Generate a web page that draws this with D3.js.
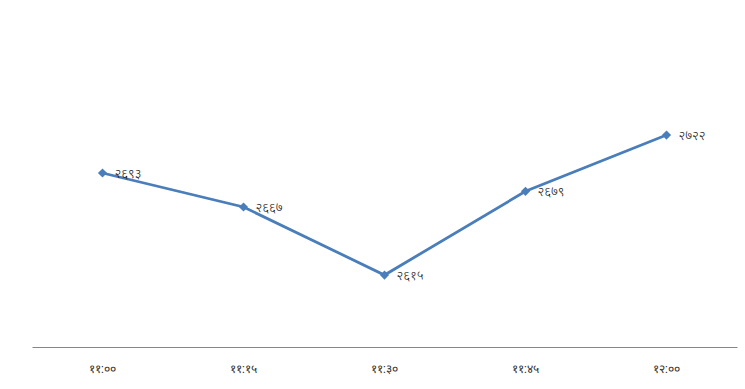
<!DOCTYPE html>
<html>
<head>
<meta charset="utf-8">
<script src="https://cdn.jsdelivr.net/npm/d3@7"></script>
<style>
  body { margin: 0; background: #fff; }
  svg { display: block; font-family: "Noto Sans", "Noto Sans Devanagari", sans-serif; }
</style>
</head>
<body>
<svg id="chart"></svg>
<script>
// category labels and values (Devanagari numerals as in the original)
const times = ['११:००', '११:१५', '११:३०', '११:४५', '१२:००'];
const values = [2693, 2667, 2615, 2679, 2722];
const valueLabels = ['२६९३', '२६६७', '२६१५', '२६७९', '२७२२'];

const width = 745, height = 389;
const margin = { top: 33, right: 8, bottom: 42, left: 32 };

const svg = d3.select('#chart')
  .attr('width', width)
  .attr('height', height);

const x = d3.scaleBand()
  .domain(times)
  .range([margin.left, width - margin.right]);

const y = d3.scaleLinear()
  .domain([2560, 2800])
  .range([height - margin.bottom, margin.top]);

const data = times.map((t, i) => ({ t, v: values[i], label: valueLabels[i] }));

// x axis
const xAxis = d3.axisBottom(x).tickSize(0).tickPadding(17);
const xG = svg.append('g')
  .attr('transform', `translate(0,${height - margin.bottom})`)
  .call(xAxis);
xG.select('.domain').attr('stroke', '#868686').attr('stroke-width', 1);
xG.selectAll('text')
  .attr('font-size', 12)
  .attr('font-weight', 300)
  .attr('fill', '#333');

const cx = d => x(d.t) + x.bandwidth() / 2;

// the line
svg.append('path')
  .datum(data)
  .attr('fill', 'none')
  .attr('stroke', '#4a7ebb')
  .attr('stroke-width', 2.8)
  .attr('d', d3.line().x(cx).y(d => y(d.v)));

// diamond markers (square rotated 45deg)
svg.selectAll('.marker')
  .data(data)
  .join('path')
  .attr('class', 'marker')
  .attr('transform', d => `translate(${cx(d)},${y(d.v)}) rotate(45)`)
  .attr('d', d3.symbol(d3.symbolSquare, 42))
  .attr('fill', '#4a7ebb');

// data labels
svg.selectAll('.val')
  .data(data)
  .join('text')
  .attr('class', 'val')
  .attr('x', d => cx(d) + 12)
  .attr('y', d => y(d.v) + 5)
  .attr('font-size', 13)
  .attr('font-weight', 300)
  .attr('fill', '#111')
  .text(d => d.label);
</script>
</body>
</html>
